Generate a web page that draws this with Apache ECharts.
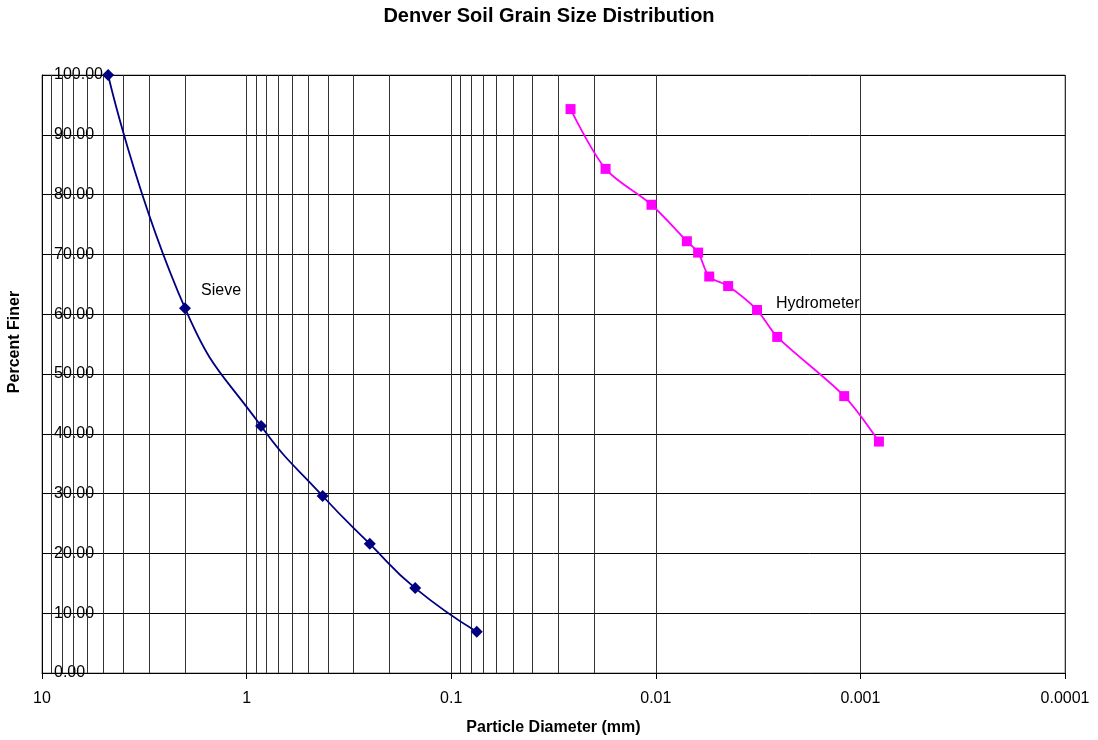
<!DOCTYPE html>
<html>
<head>
<meta charset="utf-8">
<script src="https://cdn.jsdelivr.net/npm/echarts@6/dist/echarts.min.js"></script>
<style>
html,body{margin:0;padding:0;background:#fff;}
#chart{width:1098px;height:740px;}
</style>
</head>
<body>
<div id="chart"></div>
<script>
// ---- data ----
const sieveDiameter = [4.75, 2.0, 0.85, 0.425, 0.25, 0.15, 0.075];
const sievePercent  = [100.0, 61.0, 41.3, 29.6, 21.6, 14.2, 6.9];
const hydroDiameter = [0.0261, 0.0176, 0.0105, 0.00705, 0.00621, 0.00548, 0.00443, 0.00320, 0.00255, 0.00120, 0.000812];
const hydroPercent  = [94.3, 84.3, 78.3, 72.2, 70.3, 66.3, 64.7, 60.7, 56.2, 46.3, 38.7];
const xTickLabels = ['0.0001', '0.001', '0.01', '0.1', '1', '10'];
const xDecades = [0.0001, 0.001, 0.01, 0.1, 1];
const minorMultipliers = [2, 3, 4, 5, 6, 7, 8, 9];

const FONT = '"Liberation Sans", Arial, sans-serif';

const minorLines = [];
xDecades.forEach(d => minorMultipliers.forEach(m => minorLines.push({ xAxis: d * m })));

const chart = echarts.init(document.getElementById('chart'), null, { renderer: 'canvas' });
chart.setOption({
  animation: false,
  backgroundColor: '#fff',
  title: {
    text: 'Denver Soil Grain Size Distribution',
    left: 'center',
    top: 1,
    textStyle: { fontFamily: FONT, fontSize: 20, fontWeight: 'bold', color: '#000' }
  },
  grid: { left: 42, right: 33, top: 75, bottom: 67, outerBoundsMode: 'none', show: true, borderColor: '#808080', borderWidth: 1 },
  xAxis: {
    type: 'log',
    logBase: 10,
    min: 0.0001,
    max: 10,
    interval: 1,
    inverse: true,
    name: 'Particle Diameter (mm)',
    nameLocation: 'middle',
    nameGap: 47,
    nameTextStyle: { fontFamily: FONT, fontSize: 16, fontWeight: 'bold', color: '#000' },
    axisLine: { show: true, lineStyle: { color: '#000', width: 1 } },
    axisTick: { show: true, inside: false, length: 6, lineStyle: { color: '#000' } },
    axisLabel: {
      fontFamily: FONT, fontSize: 16, color: '#000', margin: 18,
      formatter: v => xTickLabels[Math.round(Math.log10(v)) + 4]
    },
    splitLine: { show: true, lineStyle: { color: '#333', width: 1 } }
  },
  yAxis: {
    type: 'value',
    min: 0,
    max: 100,
    interval: 10,
    axisLine: { show: true, lineStyle: { color: '#000', width: 1 } },
    axisTick: { show: true, inside: true, length: 4, lineStyle: { color: '#000' } },
    axisLabel: {
      inside: true, margin: 12,
      fontFamily: FONT, fontSize: 16, color: '#000',
      formatter: v => v.toFixed(2)
    },
    splitLine: { show: true, lineStyle: { color: '#000', width: 1 } }
  },
  graphic: [
    { type: 'text', x: 15, y: 342, rotation: Math.PI / 2,
      style: { text: 'Percent Finer', font: 'bold 16px ' + FONT, fill: '#000', align: 'center', verticalAlign: 'middle' } },
    { type: 'text', left: 201, top: 283, style: { text: 'Sieve', font: '16px ' + FONT, fill: '#000' } },
    { type: 'text', left: 776, top: 296, style: { text: 'Hydrometer', font: '16px ' + FONT, fill: '#000' } }
  ],
  series: [
    {
      name: 'minor grid',
      type: 'line',
      data: [],
      z: 1,
      silent: true,
      markLine: {
        silent: true,
        symbol: 'none',
        animation: false,
        label: { show: false },
        lineStyle: { color: '#333', width: 1, type: 'solid' },
        emphasis: { disabled: true },
        data: minorLines
      }
    },
    {
      name: 'Sieve',
      type: 'line',
      z: 5,
      smooth: 0.5,
      data: sieveDiameter.map((d, i) => [d, sievePercent[i]]),
      symbol: 'diamond',
      symbolSize: 12,
      itemStyle: { color: '#000080' },
      lineStyle: { color: '#000080', width: 1.8 }
    },
    {
      name: 'Hydrometer',
      type: 'line',
      z: 5,
      smooth: 0.3,
      data: hydroDiameter.map((d, i) => [d, hydroPercent[i]]),
      symbol: 'rect',
      symbolSize: 10,
      itemStyle: { color: '#FF00FF' },
      lineStyle: { color: '#FF00FF', width: 1.8 }
    }
  ]
});
</script>
</body>
</html>
